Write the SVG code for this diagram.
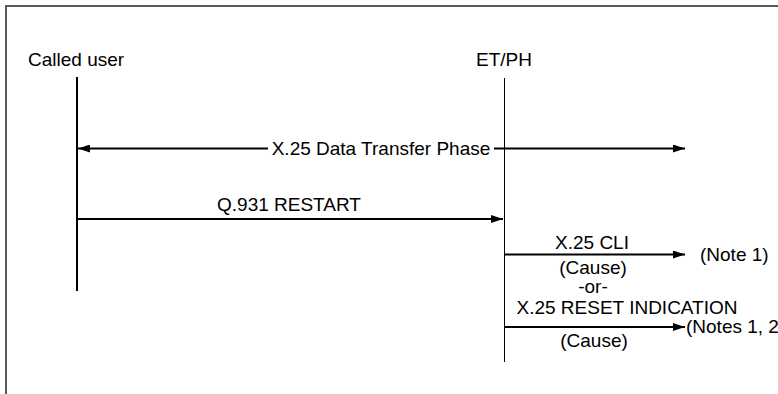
<svg xmlns="http://www.w3.org/2000/svg" width="778" height="394" viewBox="0 0 778 394">
  <style>
    text { font-family: "Liberation Sans", Arial, Helvetica, sans-serif; font-size: 19px; fill: #000; }
    .mid { text-anchor: middle; }
    .msg { stroke: #000; stroke-width: 2; fill: none; }
    .life-thick { stroke: #000; stroke-width: 2; }
    .life-thin { stroke: #000; stroke-width: 1; }
  </style>
  <defs>
    <marker id="arrow" markerUnits="userSpaceOnUse" markerWidth="12" markerHeight="8" refX="12" refY="4" orient="auto">
      <path d="M0,0 L12,4 L0,8 z" fill="#000"/>
    </marker>
  </defs>
  <rect x="0" y="0" width="778" height="394" fill="#fff"/>
  <rect x="6" y="6" width="800" height="420" fill="none" stroke="#5a5a5a" stroke-width="2"/>

  <g id="called-user">
    <text x="28" y="66">Called user</text>
    <line class="life-thick" x1="77" y1="77" x2="77" y2="291"/>
  </g>

  <g id="et-ph">
    <text class="mid" x="504" y="66">ET/PH</text>
    <line class="life-thin" x1="504.5" y1="78" x2="504.5" y2="362"/>
  </g>

  <g id="connectors">
    <g id="data-transfer">
      <line class="msg" x1="268" y1="148.5" x2="78" y2="148.5" marker-end="url(#arrow)"/>
      <line class="msg" x1="494" y1="148.5" x2="685" y2="148.5" marker-end="url(#arrow)"/>
      <text class="mid" x="381" y="155">X.25 Data Transfer Phase</text>
    </g>
    <g id="restart">
      <line class="msg" x1="78" y1="219" x2="503" y2="219" marker-end="url(#arrow)"/>
      <text class="mid" x="289" y="211">Q.931 RESTART</text>
    </g>
    <g id="cli">
      <line class="msg" x1="505" y1="254.5" x2="685" y2="254.5" marker-end="url(#arrow)"/>
      <text class="mid" x="592" y="249">X.25 CLI</text>
      <text class="mid" x="593" y="274">(Cause)</text>
      <text x="700" y="261">(Note 1)</text>
    </g>
    <text class="mid" x="593" y="293">-or-</text>
    <g id="reset">
      <line class="msg" x1="505" y1="327" x2="685" y2="327" marker-end="url(#arrow)"/>
      <text class="mid" x="627" y="314">X.25 RESET INDICATION</text>
      <text class="mid" x="594" y="347">(Cause)</text>
      <text x="686" y="333">(Notes 1, 2</text>
    </g>
  </g>
</svg>
